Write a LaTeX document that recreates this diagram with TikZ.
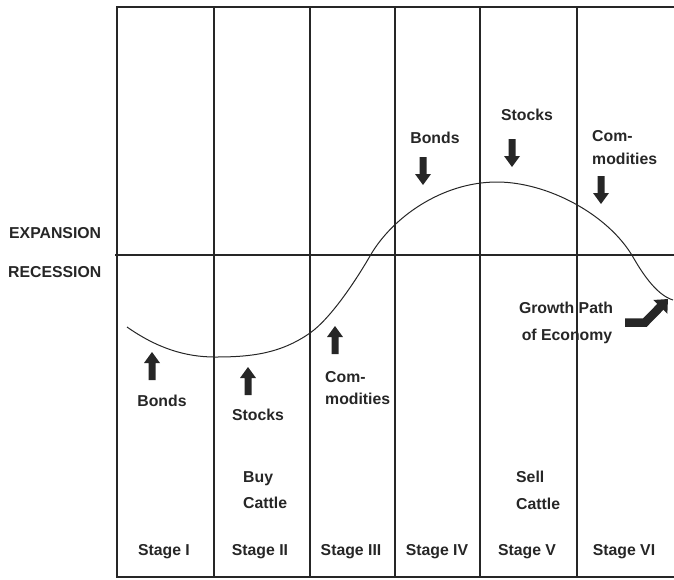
\documentclass[tikz,border=0pt]{standalone}
\usepackage{fontspec}
\setmainfont{Liberation Sans}
\usetikzlibrary{arrows.meta}
\definecolor{ink}{gray}{0.15}
\begin{document}
\begin{tikzpicture}[x=1pt,y=-1pt,
  frameline/.style={line width=1.1pt, draw=ink},
  lbl/.style={font=\fontsize{15.8}{18}\selectfont\bfseries, text=ink, inner sep=0pt, text height=11.3pt, text depth=0pt},
  uparr/.pic={\fill[ink] (0,-14) -- (8,-3) -- (3.5,-3) -- (3.5,14) -- (-3.5,14) -- (-3.5,-3) -- (-8,-3) -- cycle;},
  downarr/.pic={\fill[ink] (0,14) -- (8,3) -- (3.5,3) -- (3.5,-14) -- (-3.5,-14) -- (-3.5,3) -- (-8,3) -- cycle;},
]
\useasboundingbox (0,0) rectangle (674,579);
% frame
\draw[frameline] (674,7) -- (117,7) -- (117,577) -- (674,577);
\foreach \x in {214,310,395,480,577} \draw[frameline] (\x,7) -- (\x,577);
\draw[frameline] (115,255) -- (674,255);
% growth curve
\draw[line width=1pt, draw=ink]
  (127,327) .. controls (157,348) and (185,357) .. (215,357)
            .. controls (250,357) and (280,354) .. (310,333)
            .. controls (330,319) and (355,282) .. (370,256)
            .. controls (392,217.5) and (442,182) .. (497,182)
            .. controls (547,182) and (608,214) .. (633,257)
            .. controls (641,271) and (656,295) .. (673,300);
% side labels
\node[lbl, anchor=west] (exp) at (9,233) {EXPANSION};
\node[lbl, anchor=west] (rec) at (8,272) {RECESSION};
% lower arrows and labels
\pic at (152,366) {uparr};
\node[lbl] (bondsL) at (162,401) {Bonds};
\pic at (248,381) {uparr};
\node[lbl] (stocksL) at (258,415) {Stocks};
\pic at (335,340) {uparr};
\node[lbl, anchor=west] (comL1) at (325,377) {Com-};
\node[lbl, anchor=west] (comL2) at (325,399) {modities};
% upper arrows and labels
\node[lbl] (bondsU) at (435,138) {Bonds};
\pic at (423,171) {downarr};
\node[lbl] (stocksU) at (527,115) {Stocks};
\pic at (512,153) {downarr};
\node[lbl, anchor=west] (comU1) at (592,136) {Com-};
\node[lbl, anchor=west] (comU2) at (592,159) {modities};
\pic at (601,190) {downarr};
% cattle
\node[lbl, anchor=west] (buy1) at (243,477) {Buy};
\node[lbl, anchor=west] (buy2) at (243,503) {Cattle};
\node[lbl, anchor=west] (sell1) at (516,477) {Sell};
\node[lbl, anchor=west] (sell2) at (516,504) {Cattle};
% growth path
\node[lbl] (gp1) at (566,308) {Growth Path};
\node[lbl] (gp2) at (567,335) {of Economy};
\coordinate (ga) at (625,322.5);
\coordinate (gb) at (645,322.5);
\coordinate (gc) at (668,299);
\draw[ink, line width=8.5pt, line join=miter, -{Triangle[length=11pt,width=19pt]}] (ga) -- (gb) -- (gc);
% stages
\node[lbl] (s1) at (164,550) {Stage I};
\node[lbl] (s2) at (260,550) {Stage II};
\node[lbl] (s3) at (351,550) {Stage III};
\node[lbl] (s4) at (437,550) {Stage IV};
\node[lbl] (s5) at (527,550) {Stage V};
\node[lbl] (s6) at (624,550) {Stage VI};
\end{tikzpicture}
\end{document}
